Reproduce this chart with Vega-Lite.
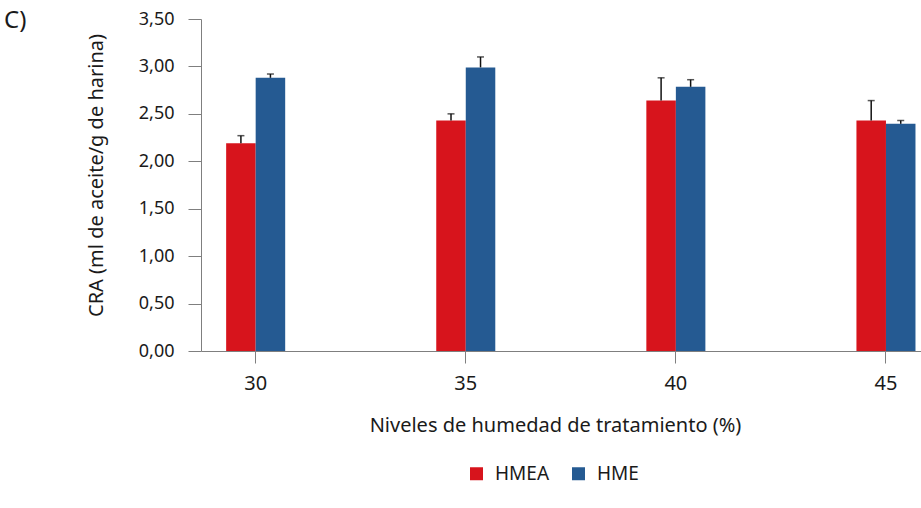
{
  "$schema": "https://vega.github.io/schema/vega-lite/v6.json",
  "width": 720,
  "height": 332,
  "autosize": {"type": "none"},
  "padding": {"left": 201, "top": 19, "right": 0, "bottom": 157},
  "background": "white",
  "title": {"text": "C)", "anchor": "start", "frame": "group", "orient": "top", "offset": 0, "baseline": "alphabetic", "dx": -197, "dy": 42, "fontSize": 24, "font": "Noto Sans", "fontWeight": "normal", "color": "#1a1a1a"},
  "config": {
    "font": "Noto Sans",
    "view": {"stroke": null},
    "axis": {"labelFont": "Noto Sans", "titleFont": "Noto Sans", "labelFontSize": 18, "titleFontSize": 20, "titleFontWeight": "normal", "labelColor": "#1a1a1a", "titleColor": "#1a1a1a", "domainColor": "#7f7f7f", "tickColor": "#7f7f7f", "grid": false}
  },
  "data": {"values": [
    {"nivel": "30", "grupo": "HMEA", "cra": 2.19, "superior": 2.27},
    {"nivel": "30", "grupo": "HME", "cra": 2.88, "superior": 2.92},
    {"nivel": "35", "grupo": "HMEA", "cra": 2.43, "superior": 2.50},
    {"nivel": "35", "grupo": "HME", "cra": 2.99, "superior": 3.10},
    {"nivel": "40", "grupo": "HMEA", "cra": 2.64, "superior": 2.88},
    {"nivel": "40", "grupo": "HME", "cra": 2.785, "superior": 2.86},
    {"nivel": "45", "grupo": "HMEA", "cra": 2.43, "superior": 2.64},
    {"nivel": "45", "grupo": "HME", "cra": 2.395, "superior": 2.43}
  ]},
  "encoding": {
    "x": {"field": "nivel", "type": "ordinal", "sort": ["30", "35", "40", "45"],
      "scale": {"paddingInner": 0.719, "paddingOuter": 0.073, "align": 0.82},
      "axis": {"labelAngle": 0, "tickSize": 12, "labelPadding": 10, "labelFontSize": 20, "title": "Niveles de humedad de tratamiento (%)", "titleFontSize": 20, "titlePadding": 22, "titleX": 354}},
    "xOffset": {"field": "grupo", "type": "nominal", "sort": ["HMEA", "HME"], "scale": {"paddingInner": 0, "paddingOuter": 0}}
  },
  "layer": [
    {
      "mark": {"type": "bar"},
      "encoding": {
        "y": {"field": "cra", "type": "quantitative",
          "scale": {"domain": [0, 3.5], "nice": false},
          "axis": {"values": [0, 0.5, 1, 1.5, 2, 2.5, 3, 3.5], "labelExpr": "replace(format(datum.value, '.2f'), '.', ',')", "tickSize": 13, "labelPadding": 14, "title": "CRA (ml de aceite/g de harina)", "titlePadding": 32, "titleY": 156}},
        "color": {"field": "grupo", "type": "nominal", "sort": ["HMEA", "HME"],
          "scale": {"domain": ["HMEA", "HME"], "range": ["#d7141c", "#255a92"]},
          "legend": {"title": null, "orient": "none", "direction": "horizontal", "legendX": 266, "legendY": 445, "symbolType": "square", "symbolSize": 169, "symbolStrokeWidth": 0, "labelFontSize": 19, "labelFont": "Noto Sans", "labelColor": "#1a1a1a", "labelOffset": 9, "columnPadding": 19}}
      }
    },
    {
      "mark": {"type": "rule", "color": "#111111", "strokeWidth": 1.5},
      "encoding": {
        "y": {"field": "cra", "type": "quantitative"},
        "y2": {"field": "superior"}
      }
    },
    {
      "mark": {"type": "tick", "color": "#111111", "size": 7, "thickness": 1.5, "orient": "horizontal"},
      "encoding": {
        "y": {"field": "superior", "type": "quantitative"}
      }
    }
  ]
}
